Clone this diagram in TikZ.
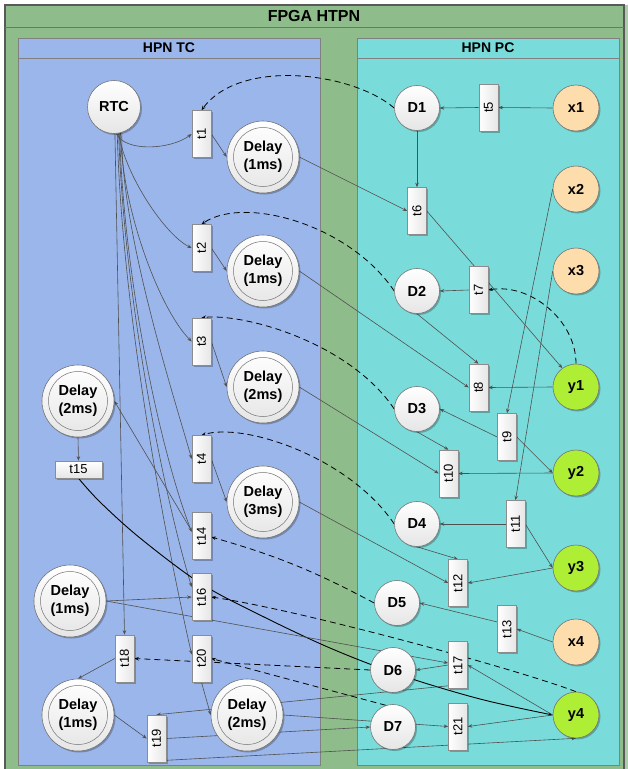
\documentclass[tikz,border=0pt]{standalone}
\usepackage{fontspec}
\usepackage{graphicx}
\setmainfont{Liberation Sans}
\usetikzlibrary{shadows,arrows.meta}
\pgfdeclarelayer{bg}\pgfdeclarelayer{edges}
\pgfsetlayers{bg,edges,main}
\definecolor{fgreen}{RGB}{143,188,139}
\definecolor{tcblue}{RGB}{155,182,234}
\definecolor{pccyan}{RGB}{122,220,218}
\definecolor{xpeach}{RGB}{253,221,172}
\definecolor{ylime}{RGB}{174,238,52}
\definecolor{edgegray}{RGB}{80,80,80}
\newcommand{\vt}[1]{\rotatebox{90}{#1}}
\tikzset{
  shad/.style={drop shadow={shadow xshift=1.5pt,shadow yshift=-1.5pt,opacity=0.25,fill=black}},
  pbase/.style={circle,draw=black!55,line width=0.6pt,inner sep=0pt,shad,font=\fontsize{14.5}{16}\selectfont\bfseries},
  place/.style={pbase,minimum size=45pt,top color=white,bottom color=black!10},
  rtcplace/.style={pbase,minimum size=53pt,top color=white,bottom color=black!10},
  xplace/.style={pbase,minimum size=46pt,fill=xpeach},
  yplace/.style={pbase,minimum size=46pt,fill=ylime},
  delay/.style={pbase,minimum size=72pt,top color=white,bottom color=black!10,align=center,
     font=\fontsize{14.5}{18}\selectfont\bfseries,
     path picture={\draw[black!55,line width=0.5pt] (path picture bounding box.center) circle (29.5pt);}},
  trans/.style={rectangle,draw=black!45,line width=0.6pt,left color=white,right color=black!10,
     minimum width=19pt,minimum height=47pt,inner sep=0pt,shad,font=\fontsize{13}{13}\selectfont},
  htrans/.style={trans,minimum width=47pt,minimum height=17pt,top color=white,bottom color=black!10},
  arc/.style={draw=edgegray,line width=0.6pt,-{Stealth[length=4.5pt,width=3.5pt]}},
  inh/.style={draw=black,line width=0.8pt,dash pattern=on 6pt off 4pt,-{Stealth[length=4.5pt,width=3.5pt]}},
  blk/.style={draw=black,line width=0.9pt,-{Stealth[length=4.5pt,width=3.5pt]}},
  hdr/.style={font=\fontsize{14}{14}\selectfont\bfseries},
}
\begin{document}
\begin{tikzpicture}[x=1pt,y=1pt]
\useasboundingbox (0,0) rectangle (628,-769);
% frames
\begin{pgfonlayer}{bg}
\fill[white] (0,0) rectangle (628,-769);
\fill[fgreen!75!white] (620,-5) rectangle (628,-769);
\draw[fill=fgreen,draw=black!65,line width=1.5pt] (5,-5) rectangle (624,-775);
\draw[black!55,line width=0.8pt] (5,-27) -- (624,-27);
\draw[fill=tcblue,draw=black!50,line width=0.6pt] (18,-38) rectangle (320,-765);
\draw[black!50,line width=0.6pt] (18,-58) -- (320,-58);
\draw[fill=pccyan,draw=black!50,line width=0.6pt] (357,-38) rectangle (619,-765);
\draw[black!50,line width=0.6pt] (357,-58) -- (619,-58);
\end{pgfonlayer}
\node[font=\fontsize{16}{16}\selectfont\bfseries] (title) at (314,-16) {FPGA HTPN};
\node[hdr] (htc) at (169,-48) {HPN TC};
\node[hdr] (hpc) at (488,-48) {HPN PC};
% TC places
\node[rtcplace] (RTC) at (114,-107) {RTC};
\node[delay] (dA) at (263,-157) {Delay\\(1ms)};
\node[delay] (dB) at (263,-271) {Delay\\(1ms)};
\node[delay] (dC) at (263,-387) {Delay\\(2ms)};
\node[delay] (dD) at (263,-502) {Delay\\(3ms)};
\node[delay] (dE) at (78,-401) {Delay\\(2ms)};
\node[delay] (dF) at (70,-601) {Delay\\(1ms)};
\node[delay] (dG) at (78,-715) {Delay\\(1ms)};
\node[delay] (dH) at (247,-715) {Delay\\(2ms)};
% TC transitions
\node[trans] (t1) at (201.5,-134) {\vt{t1}};
\node[trans] (t2) at (201.5,-248) {\vt{t2}};
\node[trans] (t3) at (201.5,-341.5) {\vt{t3}};
\node[trans] (t4) at (201.5,-459) {\vt{t4}};
\node[trans] (t14) at (201.5,-536) {\vt{t14}};
\node[trans] (t16) at (201.5,-597) {\vt{t16}};
\node[trans] (t20) at (201.5,-658.5) {\vt{t20}};
\node[trans] (t18) at (124.5,-658.5) {\vt{t18}};
\node[trans] (t19) at (156.5,-738.5) {\vt{t19}};
\node[htrans] (t15) at (78.5,-469.5) {t15};
% PC places
\node[place] (D1) at (417,-108) {D1};
\node[place] (D2) at (417,-291) {D2};
\node[place] (D3) at (417,-409) {D3};
\node[place] (D4) at (417,-524) {D4};
\node[place] (D5) at (397,-603) {D5};
\node[place] (D6) at (393,-670) {D6};
\node[place] (D7) at (393,-727) {D7};
\node[xplace] (x1) at (576,-108) {x1};
\node[xplace] (x2) at (576,-189) {x2};
\node[xplace] (x3) at (576,-271) {x3};
\node[xplace] (x4) at (576,-642) {x4};
\node[yplace] (y1) at (576,-387) {y1};
\node[yplace] (y2) at (576,-473) {y2};
\node[yplace] (y3) at (576,-568) {y3};
\node[yplace] (y4) at (576,-715) {y4};
% PC transitions
\node[trans] (t5) at (488.5,-107.5) {\vt{t5}};
\node[trans] (t6) at (417,-211) {\vt{t6}};
\node[trans] (t7) at (478.5,-290) {\vt{t7}};
\node[trans] (t8) at (478.5,-387.5) {\vt{t8}};
\node[trans] (t9) at (507,-437) {\vt{t9}};
\node[trans] (t10) at (448.5,-473.5) {\vt{t10}};
\node[trans] (t11) at (515.5,-524) {\vt{t11}};
\node[trans] (t12) at (458,-583) {\vt{t12}};
\node[trans] (t13) at (507,-629) {\vt{t13}};
\node[trans] (t17) at (458,-665) {\vt{t17}};
\node[trans] (t21) at (458,-726.5) {\vt{t21}};
% edges
\begin{pgfonlayer}{edges}
\draw[arc] (RTC.-85) .. controls (125,-152) and (170,-150) .. (t1.west);
\draw[arc] (RTC.-80) .. controls (125,-175) and (165,-235) .. (t2.west);
\draw[arc] (RTC.-76) .. controls (122,-210) and (160,-310) .. (t3.west);
\draw[arc] (RTC.-73) .. controls (120,-230) and (175,-400) .. (t4.west);
\draw[arc] (RTC.-88) -- (t18.north);
\draw[arc] (RTC.-78) .. controls (124,-280) and (160,-450) .. ([yshift=4pt]t14.west);
\draw[arc] (RTC.-80) .. controls (124,-300) and (165,-500) .. ([yshift=10pt]t16.west);
\draw[arc] (RTC.-83) .. controls (122,-320) and (170,-560) .. ([yshift=4pt]t20.west);
\draw[arc] (t1.east) -- (dA.west);
\draw[arc] (t2.east) -- (dB.west);
\draw[arc] (t3.east) -- (dC.west);
\draw[arc] (t4.east) -- (dD.west);
\draw[arc] ([yshift=5pt]t14.west) -- (dE.east);
\draw[arc] (dE.south) -- (t15.north);
\draw[blk] plot[smooth,tension=0.55] coordinates {(t15.south) (100,-502) (140,-538) (200,-583) (260,-615) (330,-648) (400,-675) (480,-699) (y4.west)};
\draw[arc] (dF.east) -- (t16.west);
\draw[arc] (dF.east) -- ([yshift=2pt]t17.west);
\draw[arc] (t18.west) -- (dG.north);
\draw[arc] (dG.east) -- (t19.west);
\draw[arc] (t20.south) -- (dH.west);
\draw[arc] ([yshift=3pt]t17.south west) -- (t19.north);
\draw[arc] (dH.east) -- (t21.west);
\draw[arc] (t19.east) -- (D7.west);
\draw[arc] ([yshift=2pt]t19.south east) -- (y4.south);
\draw[arc] (y4.west) -- (t17.east);
\draw[arc] (t17.west) -- (D6.east);
\draw[arc] (y4.west) -- (t21.east);
\draw[arc] (x4.west) -- (t13.east);
\draw[arc] ([yshift=7pt]t13.west) -- (D5.east);
\draw[inh] (D5.west) to[bend right=6] ([yshift=-1pt]t14.east);
\draw[inh] (y4.north) .. controls (520,-670) and (300,-610) .. (t16.east);
\draw[inh] (D6.west) -- (t18.east);
\draw[inh] (D7.108) -- (t20.east);
\draw[inh] (D1.west) .. controls (352,-72) and (240,-58) .. (t1.north);
\draw[inh] (D2.west) .. controls (350,-225) and (245,-195) .. (t2.north);
\draw[inh] (D3.west) .. controls (350,-343) and (245,-313) .. (t3.north);
\draw[inh] (D4.west) .. controls (350,-458) and (245,-422) .. (t4.north);
\draw[inh] (y1.north) .. controls (576,-320) and (530,-283) .. (t7.east);
\draw[arc] (x1.west) -- (t5.east);
\draw[arc] (t5.west) -- (D1.east);
\draw[arc] (D1.south) -- (t6.north);
\draw[arc] (dA.east) -- (t6.west);
\draw[arc] (t6.east) -- (y1.126);
\draw[arc] (t7.west) -- (D2.east);
\draw[arc] (x2.west) -- (t9.north);
\draw[arc] (x3.west) -- (t11.north);
\draw[arc] (y1.west) -- (t8.east);
\draw[arc] (D2.south) -- (t8.north);
\draw[arc] (dB.east) -- (t8.west);
\draw[arc] (t9.west) -- (D3.east);
\draw[arc] (t9.east) -- (y2.west);
\draw[arc] (y2.west) -- (t10.east);
\draw[arc] (D3.south) -- (t10.north);
\draw[arc] (dC.east) -- (t10.west);
\draw[arc] (t11.west) -- (D4.east);
\draw[arc] (t11.east) -- (y3.west);
\draw[arc] (D4.south) -- (t12.north);
\draw[arc] (dD.east) -- (t12.west);
\draw[arc] (y3.west) -- (t12.east);
\end{pgfonlayer}
\end{tikzpicture}
\end{document}
